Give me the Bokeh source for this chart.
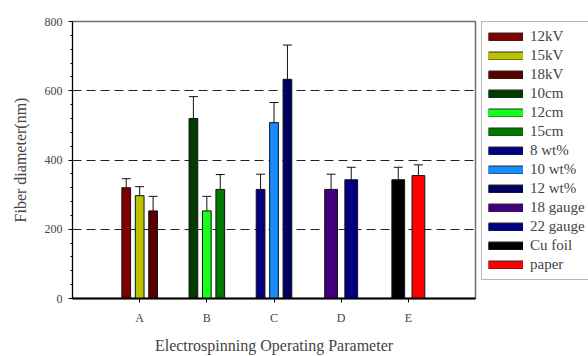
from bokeh.plotting import figure
from bokeh.layouts import row
from bokeh.models import (ColumnDataSource, FixedTicker, Whisker, TeeHead, Legend, LegendItem)
from bokeh.embed import file_html
from bokeh.resources import INLINE

categories = ["A", "B", "C", "D", "E"]
series_names = ["12kV", "15kV", "18kV", "10cm", "12cm", "15cm", "8 wt%", "10 wt%",
                "12 wt%", "18 gauge", "22 gauge", "Cu foil", "paper"]
series_group = ["A", "A", "A", "B", "B", "B", "C", "C", "C", "D", "D", "E", "E"]
series_values = [320, 297, 253, 520, 253, 315, 315, 508, 633, 315, 343, 343, 355]
series_errors = [26, 26, 42, 63, 42, 43, 44, 58, 99, 44, 36, 36, 31]
series_colors = ["#7f0000", "#bcc200", "#5a0000", "#003c00", "#16ff16", "#007a00",
                 "#000080", "#168cff", "#000060", "#42007f", "#000080", "#000000", "#ff0000"]
y_ticks = [0, 200, 400, 600, 800]
grid_lines = [200, 400, 600]

FONT = "Liberation Serif"
H = 356

p = figure(width=478, height=H, output_backend="svg", toolbar_location=None,
           x_range=(0, 6), y_range=(0, 800),
           min_border_left=72, min_border_right=3, min_border_top=21, min_border_bottom=56)

p.outline_line_color = "#6e6e6e"
p.outline_line_width = 1.5
p.xgrid.visible = False
p.ygrid.ticker = FixedTicker(ticks=grid_lines)
p.ygrid.grid_line_color = "#222222"
p.ygrid.grid_line_dash = "9 5"
p.ygrid.grid_line_width = 1

# x axis
p.xaxis.ticker = FixedTicker(ticks=list(range(1, len(categories) + 1)))
p.xaxis.major_label_overrides = {i + 1: c for i, c in enumerate(categories)}
p.xaxis.axis_label = "Electrospinning Operating Parameter"
p.xaxis.axis_line_width = 2
p.xaxis.axis_line_color = "black"
p.xaxis.major_tick_out = 4
p.xaxis.major_tick_in = 0
p.xaxis.minor_tick_line_color = None
p.xaxis.major_label_standoff = 8
p.xaxis.axis_label_standoff = 9
p.xaxis.major_label_text_font = FONT
p.xaxis.major_label_text_font_size = "12px"
p.xaxis.axis_label_text_font = FONT
p.xaxis.axis_label_text_font_size = "16px"
p.xaxis.axis_label_text_font_style = "normal"

# y axis
minor = [v for v in range(0, 801, 40) if v not in y_ticks]
p.yaxis.ticker = FixedTicker(ticks=y_ticks, minor_ticks=minor)
p.yaxis.axis_label = "Fiber diameter(nm)"
p.yaxis.axis_line_color = "black"
p.yaxis.major_tick_out = 4
p.yaxis.major_tick_in = 0
p.yaxis.minor_tick_out = 2
p.yaxis.minor_tick_in = 0
p.yaxis.major_label_standoff = 6
p.yaxis.axis_label_standoff = 13
p.yaxis.major_label_text_font = FONT
p.yaxis.major_label_text_font_size = "12px"
p.yaxis.axis_label_text_font = FONT
p.yaxis.axis_label_text_font_size = "16px"
p.yaxis.axis_label_text_font_style = "normal"

# positions computed by dodging within each group
xs, widths = [], []
for name, g in zip(series_names, series_group):
    members = [n for n, gg in zip(series_names, series_group) if gg == g]
    k = members.index(name)
    n = len(members)
    base = categories.index(g) + 1
    if n == 3:
        off = (k - 1) * 0.2
        w = 0.13
    else:
        off = (k - 0.5) * 0.3
        w = 0.19
    xs.append(base + off)
    widths.append(w)

# legend panel (separate canvas to the right)
lp = figure(width=588 - 478, height=H, output_backend="svg", toolbar_location=None,
            x_range=(0, 1), y_range=(0, 1), x_axis_type=None, y_axis_type=None,
            min_border_left=3, min_border_right=0, min_border_top=21, min_border_bottom=0)
lp.outline_line_color = None
lp.xgrid.visible = False
lp.ygrid.visible = False

items = []
for i, name in enumerate(series_names):
    src = ColumnDataSource(dict(x=[xs[i]], top=[series_values[i]], w=[widths[i]],
                                upper=[series_values[i] + series_errors[i]]))
    p.vbar(x="x", top="top", width="w", bottom=0, source=src,
           fill_color=series_colors[i], line_color="#111111", line_width=1)
    wk = Whisker(source=src, base="x", lower="top", upper="upper",
                 line_color="#111111", line_width=1,
                 lower_head=None, upper_head=TeeHead(size=9, line_color="#111111", line_width=1))
    p.add_layout(wk)
    # proxy renderers outside the legend canvas' range, only used for the swatch
    far = [xs[i] + 10, xs[i] + 11]
    lv = [series_values[i], series_values[i]]
    edge = lp.line(x=far, y=lv, line_color="#2a2a2a", line_width=9, line_cap="butt")
    fill = lp.line(x=far, y=lv, line_color=series_colors[i], line_width=7, line_cap="butt")
    items.append(LegendItem(label=name, renderers=[edge, fill]))

legend = Legend(items=items, location="top_left")
legend.label_text_font = FONT
legend.label_text_font_size = "15px"
legend.label_height = 16
legend.glyph_height = 9
legend.glyph_width = 35
legend.spacing = 2
legend.padding = 6
legend.margin = 0
legend.label_standoff = 7
legend.border_line_color = "#6e6e6e"
legend.border_line_width = 1.5
legend.background_fill_alpha = 1
lp.add_layout(legend)

layout = row(p, lp, spacing=0)
open("out.html", "w").write(file_html(layout, INLINE))
